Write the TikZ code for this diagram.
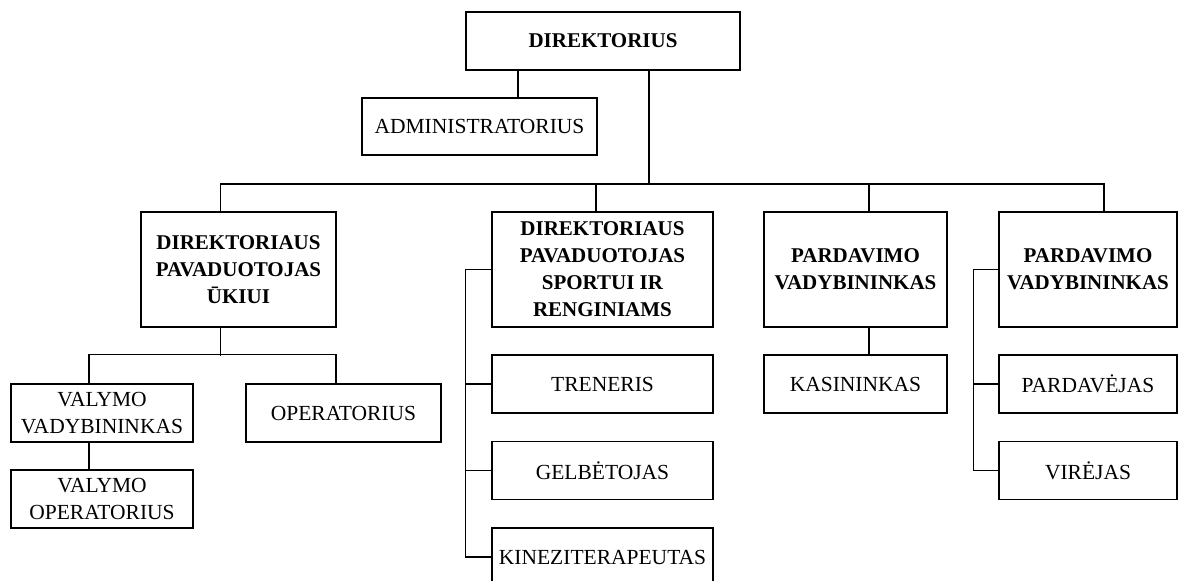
\documentclass[tikz,border=0pt]{standalone}
\usepackage{fontspec}
\setmainfont{Liberation Serif}
\tikzset{
	box/.style={draw,line width=1.5pt,align=center,inner sep=0pt,font=\fontsize{21.5}{27}\selectfont},
	hdbox/.style={box,font=\fontsize{21}{27}\selectfont\bfseries},
	link/.style={line width=1.5pt}
}

\begin{document}
\begin{tikzpicture}[x=1pt,y=-1pt]
		\clip (0,0) rectangle (1179,581);
		\node[hdbox,minimum width=274pt,minimum height=58pt] (dir) at (603,41) {DIREKTORIUS};
		\node[box,minimum width=235pt,minimum height=57pt] (adm) at (479.5,126.5) {ADMINISTRATORIUS};
		\node[hdbox,minimum width=195pt,minimum height=115pt] (puk) at (238.5,269.5) {DIREKTORIAUS\\PAVADUOTOJAS\\ŪKIUI};
		\node[hdbox,minimum width=221pt,minimum height=115pt] (psr) at (602.5,269.5) {DIREKTORIAUS\\PAVADUOTOJAS\\SPORTUI IR\\RENGINIAMS};
		\node[hdbox,minimum width=183pt,minimum height=115pt] (pv1) at (855.5,269.5) {PARDAVIMO\\VADYBININKAS};
		\node[hdbox,minimum width=178pt,minimum height=115pt] (pv2) at (1088,269.5) {PARDAVIMO\\VADYBININKAS};
		\node[box,minimum width=182pt,minimum height=58pt] (vvad) at (102,413) {VALYMO\\VADYBININKAS};
		\node[box,minimum width=195pt,minimum height=58pt] (oper) at (343.5,413) {OPERATORIUS};
		\node[box,minimum width=182pt,minimum height=58pt] (vop) at (102,499) {VALYMO\\OPERATORIUS};
		\node[box,minimum width=221pt,minimum height=58pt] (tren) at (602.5,384) {TRENERIS};
		\node[box,minimum width=221pt,minimum height=58pt] (gelb) at (602.5,470.5) {GELBĖTOJAS};
		\node[box,minimum width=221pt,minimum height=58pt] (kine) at (602.5,557) {KINEZITERAPEUTAS};
		\node[box,minimum width=183pt,minimum height=58pt] (kas) at (855.5,384) {KASININKAS};
		\node[box,minimum width=178pt,minimum height=58pt] (pard) at (1088,384) {PARDAVĖJAS};
		\node[box,minimum width=178pt,minimum height=58pt] (vir) at (1088,470.5) {VIRĖJAS};
		\coordinate (bus) at (649,184);
		\draw[link] ([xshift=38.5pt]adm.north) -- ++(0,-28);
		\draw[link] ([xshift=46pt]dir.south) -- (bus);
		\draw[link] ([xshift=-18pt]puk.north) |- (bus) -| ([xshift=16pt]pv2.north);
		\draw[link] ([xshift=-6.5pt]psr.north) -- ++(0,-28);
		\draw[link] ([xshift=13.5pt]pv1.north) -- ++(0,-28);
		\draw[link] ([xshift=-18pt]puk.south) -- ++(0,28);
		\draw[link] ([xshift=-13pt]vvad.north) -- ++(0,-29) -| ([xshift=-7.5pt]oper.north);
		\draw[link] ([xshift=-13pt]vvad.south) -- ([xshift=-13pt]vop.north);
		\draw[link] ([xshift=13.5pt]pv1.south) -- ([xshift=13.5pt]kas.north);
		\draw[link] (psr.west) -- ++(-26,0) |- (kine.west);
		\draw[link] (tren.west) -- ++(-26,0);
		\draw[link] (gelb.west) -- ++(-26,0);
		\draw[link] (pv2.west) -- ++(-25,0) |- (vir.west);
		\draw[link] (pard.west) -- ++(-25,0);
	\end{tikzpicture}
\end{document}
